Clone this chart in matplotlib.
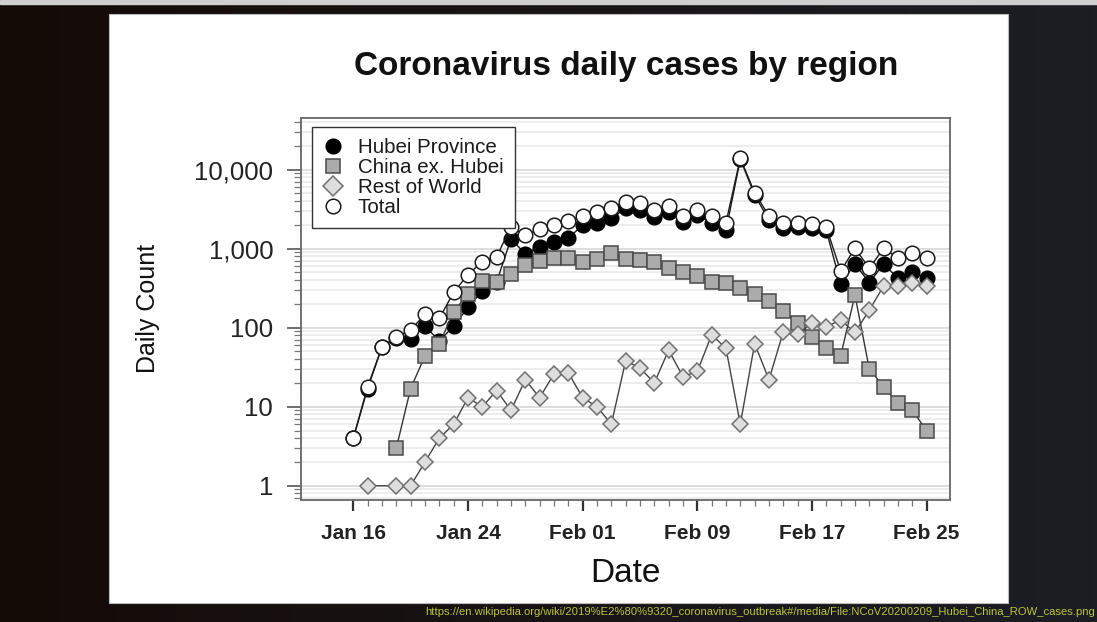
import numpy as np
import pandas as pd
import matplotlib
matplotlib.use("Agg")
import matplotlib.pyplot as plt
import matplotlib.dates as mdates
import matplotlib.ticker as mticker
from matplotlib.lines import Line2D
from matplotlib.patches import Rectangle

plt.rcParams["font.family"] = ["Liberation Sans", "DejaVu Sans"]

# daily counts, Jan 16 .. Feb 25 (NaN = no point)
nan = np.nan
dates = pd.date_range("2020-01-16", "2020-02-25")
hubei = [4, 17, 57, 75, 73, 105, 68, 105, 181, 292, 380, 1330, 860, 1060, 1220,
         1370, 1970, 2130, 2430, 3240, 3090, 2500, 2930, 2190, 2690, 2090, 1700,
         13640, 4770, 2300, 1840, 1900, 1840, 1700, 359, 640, 372, 640, 422, 500, 422]
china_ex = [nan, nan, nan, 3, 17, 44, 62, 160, 268, 385, 380, 485, 620, 705, 765,
            765, 670, 730, 890, 740, 716, 684, 565, 510, 452, 382, 372, 315, 267,
            218, 164, 114, 77, 55, 44, 259, 30, 18, 11, 9, 5]
rest_world = [nan, 1, nan, 1, 1, 2, 4, 6, 13, 10, 16, 9, 22, 13, 26, 27, 13, 10,
              6, 38, 31, 20, 52, 24, 28, 81, 55, 6, 63, 22, 89, 83, 114, 103, 125,
              87, 167, 337, 337, 372, 337]
total = [4, 18, 57, 77, 93, 149, 131, 280, 470, 684, 790, 1900, 1480, 1770, 2000,
         2250, 2610, 2930, 3240, 3940, 3760, 3090, 3470, 2590, 3090, 2590, 2130,
         13960, 5100, 2590, 2090, 2130, 2050, 1870, 522, 1010, 565, 1010, 760, 890, 760]

series_names = ["Hubei Province", "China ex. Hubei", "Rest of World", "Total"]
y_major = [1, 10, 100, 1000, 10000]
y_labels = ["1", "10", "100", "1,000", "10,000"]

W, H = 1097, 622
fig = plt.figure(figsize=(W / 100, H / 100), dpi=100)

# dark slide background with a slight left-to-right tint
bg = fig.add_axes([0, 0, 1, 1], zorder=-10)
grad = np.linspace(0, 1, 256)
c0 = np.array([0x14, 0x0b, 0x07]) / 255
c1 = np.array([0x1c, 0x1e, 0x24]) / 255
img = c0[None, :] * (1 - grad[:, None]) + c1[None, :] * grad[:, None]
bg.imshow(img[None, :, :], aspect="auto", extent=[0, 1, 0, 1])
bg.add_patch(Rectangle((0, 1 - 4 / H), 1, 4 / H, color="#cfcfcf"))
bg.add_patch(Rectangle((109 / W, 1 - 603 / H), (1008 - 109) / W, (603 - 14) / H,
                       facecolor="white", edgecolor="#bbbbbb", lw=0.8))
bg.set_xlim(0, 1)
bg.set_ylim(0, 1)
bg.axis("off")

ax = fig.add_axes([301 / W, 1 - 500 / H, (950 - 301) / W, (500 - 118.3) / H])
ax.set_facecolor("white")

styles = [
    dict(marker="o", ms=10.5, mfc="black", mec="black", color="#1a1a1a"),
    dict(marker="s", ms=9.8, mfc="#ababab", mec="#4a4a4a", color="#333333"),
    dict(marker="D", ms=8.0, mfc="#dedede", mec="#707070", color="#444444"),
    dict(marker="o", ms=10.5, mfc="white", mec="#1a1a1a", color="#1a1a1a"),
]
for vals, st in zip([hubei, china_ex, rest_world, total], styles):
    s = pd.Series(vals, index=dates).dropna()
    ax.plot(s.index, s.values, lw=1.0, mew=1.1, **st)

ax.set_yscale("log")
ax.set_ylim(0.66, 44700)
x0 = mdates.date2num(dates[0])
ax.set_xlim(x0 - 3.65, x0 + 41.63)

ax.yaxis.set_major_locator(mticker.FixedLocator(y_major))
ax.yaxis.set_major_formatter(mticker.FixedFormatter(y_labels))
ax.yaxis.set_minor_locator(mticker.LogLocator(base=10, subs=np.arange(2, 10)))
ax.yaxis.set_minor_formatter(mticker.NullFormatter())
ax.set_xticks(dates[::8])
ax.xaxis.set_major_formatter(mdates.DateFormatter("%b %d"))
ax.set_xticks(dates, minor=True)

ax.grid(True, which="major", axis="y", color="#dadada", lw=1.3, zorder=0)
ax.grid(True, which="minor", axis="y", color="#e8e8e8", lw=1.1, zorder=0)
ax.set_axisbelow(True)

ax.tick_params(axis="y", which="major", length=10, width=1.2, color="#555555",
               pad=10, labelsize=18.5, labelcolor="#222222")
ax.tick_params(axis="y", which="minor", length=5, width=0.9, color="#777777")
ax.tick_params(axis="x", which="major", length=8, width=1.6, color="#333333",
               pad=9, labelsize=15, labelcolor="#222222")
ax.tick_params(axis="x", which="minor", length=4, width=0.9, color="#777777")
for lab in ax.get_xticklabels():
    lab.set_fontweight("bold")
for sp in ax.spines.values():
    sp.set_color("#666666")
    sp.set_linewidth(1.3)

leg_scale = [1.0, 1.0, 1.3, 1.0]
handles = [Line2D([], [], ls="none", marker=st["marker"], ms=st["ms"] * k,
                  mfc=st["mfc"], mec=st["mec"], mew=1.1)
           for st, k in zip(styles, leg_scale)]
leg = ax.legend(handles, series_names, loc="upper left",
                bbox_to_anchor=((311.7 - 301) / 649, (500 - 126.7) / 381.7),
                borderaxespad=0, fontsize=14.8, frameon=True, fancybox=False,
                edgecolor="#333333", framealpha=1, labelspacing=0.05,
                handlelength=1.0, handletextpad=0.7, borderpad=0.55)
leg.get_frame().set_linewidth(1.0)
for t in leg.get_texts():
    t.set_color("#1a1a1a")

fig.text(626 / W, 1 - 66.7 / H, "Coronavirus daily cases by region",
         fontsize=24, fontweight="bold", ha="center", va="center", color="#111111")
fig.text(625 / W, 1 - 574 / H, "Date", fontsize=24, ha="center", va="center",
         color="#111111")
fig.text(148 / W, 1 - 308 / H, "Daily Count", fontsize=18, rotation=90,
         ha="center", va="center", color="#111111")
fig.text(1095 / W, 1 - 612 / H,
         "https://en.wikipedia.org/wiki/2019%E2%80%9320_coronavirus_outbreak#/media/"
         "File:NCoV20200209_Hubei_China_ROW_cases.png",
         fontsize=8.1, ha="right", va="center", color="#bcc43a")

fig.savefig("out.png", dpi=100)
